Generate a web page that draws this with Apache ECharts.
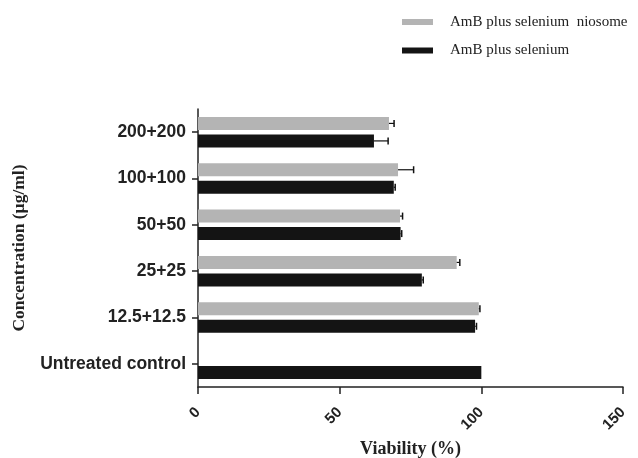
<!DOCTYPE html>
<html><head><meta charset="utf-8">
<script src="https://cdn.jsdelivr.net/npm/echarts@6/dist/echarts.min.js"></script>
<style>html,body{margin:0;padding:0;background:#fff}#c{width:638px;height:458px}</style>
</head><body><div id="c"></div>
<script>
var categories = ['Untreated control', '12.5+12.5', '25+25', '50+50', '100+100', '200+200'];
var niosome = [0, 99.1, 91.3, 71.3, 70.6, 67.4];
var niosomeErr = [0, 0.4, 1.1, 0.9, 5.5, 1.8];
var plain = [100, 97.8, 79.0, 71.5, 69.1, 62.1];
var plainErr = [0, 0.5, 0.5, 0.4, 0.5, 5.0];
var xTicks = [0, 50, 100, 150];

var BW = 13, GAP = 4.5;
function errSeries(vals, errs, sign) {
  return {
    type: 'custom', silent: true, z: 5,
    data: vals.map(function (v, i) { return [v, i, errs[i]]; }),
    renderItem: function (params, api) {
      var v = api.value(0), idx = api.value(1), e = api.value(2);
      if (!e) return null;
      var p0 = api.coord([v, idx]);
      var p1 = api.coord([v + e, idx]);
      var y = p0[1] + sign * (BW / 2 + GAP / 2);
      return { type: 'group', children: [
        { type: 'line', shape: { x1: p0[0], y1: y, x2: p1[0], y2: y }, style: { stroke: '#111', lineWidth: 1.2 } },
        { type: 'line', shape: { x1: p1[0], y1: y - 3.5, x2: p1[0], y2: y + 3.5 }, style: { stroke: '#111', lineWidth: 1.5 } }
      ]};
    }
  };
}

var chart = echarts.init(document.getElementById('c'));
chart.setOption({
  animation: false,
  legend: {
    orient: 'vertical', left: 397, top: 9, itemWidth: 31, itemHeight: 6, itemGap: 12.5,
    icon: 'rect',
    textStyle: { fontFamily: 'Liberation Serif', fontSize: 15, lineHeight: 16, color: '#222', padding: [0, 0, 0, 12] },
    data: ['AmB plus selenium  niosome', 'AmB plus selenium']
  },
  grid: { left: 198, right: 15, top: 109, bottom: 71, containLabel: false, outerBoundsMode: 'none' },
  xAxis: {
    type: 'value', min: 0, max: 150, interval: 50,
    name: 'Viability (%)', nameLocation: 'middle', nameGap: 52,
    nameTextStyle: { fontFamily: 'Liberation Serif', fontWeight: 'bold', fontSize: 18, color: '#222' },
    axisLine: { show: true, lineStyle: { color: '#222', width: 1.5 } },
    axisTick: { show: true, length: 7, lineStyle: { color: '#222', width: 1.5 } },
    axisLabel: { rotate: 45, margin: 23, fontFamily: 'Liberation Sans', fontWeight: 'bold', fontSize: 15, color: '#222' },
    splitLine: { show: false }
  },
  yAxis: {
    type: 'category', data: categories,
    name: 'Concentration (µg/ml)', nameLocation: 'middle', nameGap: 170, nameRotate: 90,
    nameTextStyle: { fontFamily: 'Liberation Serif', fontWeight: 'bold', fontSize: 17.5, color: '#222' },
    axisLine: { show: true, lineStyle: { color: '#222', width: 1.5 } },
    axisTick: { show: true, alignWithLabel: true, length: 6, lineStyle: { color: '#222', width: 1.5 } },
    axisLabel: { margin: 12, fontFamily: 'Liberation Sans', fontWeight: 'bold', fontSize: 17.5, color: '#222' }
  },
  series: [
    { name: 'AmB plus selenium  niosome', type: 'bar', data: niosome, barWidth: BW, barGap: '35%',
      itemStyle: { color: '#b4b4b4' } },
    { name: 'AmB plus selenium', type: 'bar', data: plain, barWidth: BW, barGap: '35%',
      itemStyle: { color: '#141414' } },
    errSeries(niosome, niosomeErr, -1),
    errSeries(plain, plainErr, 1)
  ]
});
</script></body></html>
